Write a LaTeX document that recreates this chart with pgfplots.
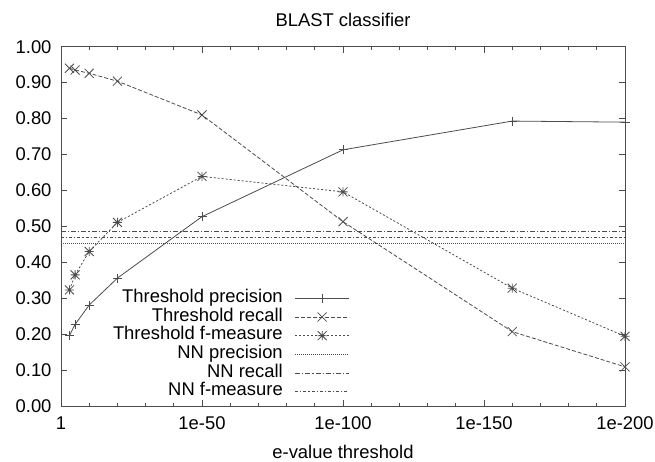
\documentclass[border=0pt]{standalone}
\usepackage{fontspec}
\setmainfont{Liberation Sans}
\usepackage{pgfplots}
\pgfplotsset{compat=1.18}
\definecolor{ln}{gray}{0.3}
\makeatletter
\pgfdeclareplotmark{gpplus}{%
  \pgfpathmoveto{\pgfqpoint{-\pgfplotmarksize}{0pt}}\pgfpathlineto{\pgfqpoint{\pgfplotmarksize}{0pt}}%
  \pgfpathmoveto{\pgfqpoint{0pt}{-\pgfplotmarksize}}\pgfpathlineto{\pgfqpoint{0pt}{\pgfplotmarksize}}%
  \pgfusepathqstroke}
\pgfdeclareplotmark{gpx}{%
  \pgfpathmoveto{\pgfqpoint{-\pgfplotmarksize}{-\pgfplotmarksize}}\pgfpathlineto{\pgfqpoint{\pgfplotmarksize}{\pgfplotmarksize}}%
  \pgfpathmoveto{\pgfqpoint{-\pgfplotmarksize}{\pgfplotmarksize}}\pgfpathlineto{\pgfqpoint{\pgfplotmarksize}{-\pgfplotmarksize}}%
  \pgfusepathqstroke}
\pgfdeclareplotmark{gpstar}{%
  \pgfpathmoveto{\pgfqpoint{-\pgfplotmarksize}{0pt}}\pgfpathlineto{\pgfqpoint{\pgfplotmarksize}{0pt}}%
  \pgfpathmoveto{\pgfqpoint{0pt}{-\pgfplotmarksize}}\pgfpathlineto{\pgfqpoint{0pt}{\pgfplotmarksize}}%
  \pgfpathmoveto{\pgfqpoint{-\pgfplotmarksize}{-\pgfplotmarksize}}\pgfpathlineto{\pgfqpoint{\pgfplotmarksize}{\pgfplotmarksize}}%
  \pgfpathmoveto{\pgfqpoint{-\pgfplotmarksize}{\pgfplotmarksize}}\pgfpathlineto{\pgfqpoint{\pgfplotmarksize}{-\pgfplotmarksize}}%
  \pgfusepathqstroke}
\makeatother
\begin{document}
\begin{tikzpicture}
\begin{axis}[
  at={(0pt,0pt)}, anchor=south west,
  scale only axis, width=564pt, height=359.3pt,
  font=\fontsize{18.4}{21}\selectfont,
  /pgf/number format/assume math mode=true,
  xmin=0, xmax=200, ymin=0, ymax=1,
  xtick={0,50,100,150,200},
  xticklabels={1,1e-50,1e-100,1e-150,1e-200},
  minor x tick num=4,
  ytick={0,0.1,...,1.0},
  yticklabel style={/pgf/number format/fixed, /pgf/number format/fixed zerofill, /pgf/number format/precision=2, xshift=-6pt},
  tick pos=both, tick align=inside,
  major tick length=6pt, minor tick length=3pt,
  every tick/.style={ln, line width=0.8pt},
  axis line style={ln, line width=0.9pt},
  xticklabel style={yshift=-7pt},
  title={BLAST classifier},
  title style={at={(0.5,1)}, anchor=base, yshift=14pt},
  xlabel={e-value threshold},
  xlabel style={at={(0.5,0)}, anchor=base, yshift=-52pt, inner sep=0pt, text depth=0pt},
  clip=false,
  legend plot pos=right,
  legend cell align=right,
  legend image code/.code={%
    \draw[mark repeat=2, mark phase=2, #1] plot coordinates {(0pt,0pt) (27pt,0pt) (54pt,0pt)};},
  legend style={draw=none, fill=none, at={(0.512,0.013)}, anchor=south east,
    inner sep=0pt, row sep=0pt, column sep=12pt,
    nodes={inner sep=0pt, text height=13.4pt, text depth=5.3pt}},
]
\addplot[ln, line width=0.8pt, mark=gpplus, mark size=4.5pt] coordinates {
 (3,0.196) (5,0.227) (10,0.281) (20,0.356) (50,0.527) (100,0.713) (160,0.793) (200,0.790)};
\addlegendentry{Threshold precision}
\addplot[ln, line width=0.8pt, dash pattern=on 4pt off 2pt, mark=gpx, mark size=4.5pt, mark options={solid}] coordinates {
 (3,0.940) (5,0.935) (10,0.926) (20,0.904) (50,0.810) (100,0.513) (160,0.207) (200,0.109)};
\addlegendentry{Threshold recall}
\addplot[ln, line width=0.8pt, dash pattern=on 2pt off 2pt, mark=gpstar, mark size=4.5pt, mark options={solid}] coordinates {
 (3,0.323) (5,0.365) (10,0.430) (20,0.511) (50,0.639) (100,0.596) (160,0.328) (200,0.194)};
\addlegendentry{Threshold f-measure}
\addplot[ln, line width=0.8pt, dash pattern=on 1pt off 1pt] coordinates {(0,0.453) (200,0.453)};
\addlegendentry{NN precision}
\addplot[ln, line width=0.8pt, dash pattern=on 5pt off 2pt on 1.2pt off 2pt] coordinates {(0,0.485) (200,0.485)};
\addlegendentry{NN recall}
\addplot[ln, line width=0.8pt, dash pattern=on 3pt off 2pt on 1.2pt off 2pt] coordinates {(0,0.468) (200,0.468)};
\addlegendentry{NN f-measure}
\end{axis}
\pgfresetboundingbox
\path (-61pt,-55pt) rectangle (594pt,406pt);
\end{tikzpicture}
\end{document}
